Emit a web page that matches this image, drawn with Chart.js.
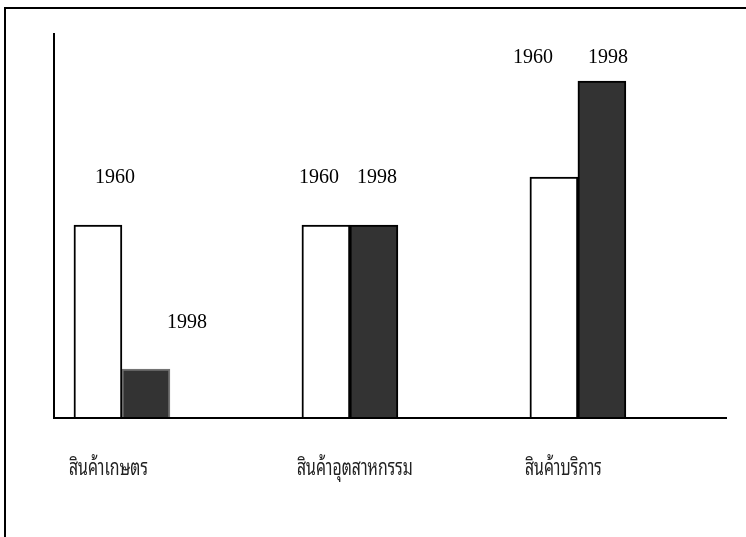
<!DOCTYPE html>
<html>
<head>
<meta charset="utf-8">
<script src="https://cdn.jsdelivr.net/npm/chart.js@4/dist/chart.umd.min.js"></script>
<style>
  html, body { margin: 0; padding: 0; background: #fff; }
  #wrap { width: 746px; height: 537px; }
</style>
</head>
<body>
<div id="wrap"><canvas id="chart" width="746" height="537"></canvas></div>
<script>
const categories = ["สินค้าเกษตร", "สินค้าอุตสาหกรรม", "สินค้าบริการ"];
const seriesNames = ["1960", "1998"];
const values1960 = [4, 4, 5];
const values1998 = [1, 4, 7];
const yMax = 8;

// where each year label sits relative to its bar (centre x, top y)
const labelOffsets = [
  [[17, -42], [-7, -42], [-21, -114]],
  [[41, -41], [3, -42], [6, -18]]
];

const decorations = {
  id: "decorations",
  beforeDraw(chart) {
    const ctx = chart.ctx;
    ctx.save();
    ctx.fillStyle = "#fff";
    ctx.fillRect(0, 0, chart.width, chart.height);
    // frame: only left and top edges are visible
    ctx.strokeStyle = "#000";
    ctx.lineWidth = 2;
    ctx.beginPath();
    ctx.moveTo(5, chart.height);
    ctx.lineTo(5, 8);
    ctx.lineTo(chart.width, 8);
    ctx.stroke();
    ctx.restore();
  },
  afterDatasetsDraw(chart) {
    const { ctx, chartArea: a } = chart;
    ctx.save();
    // axes
    ctx.strokeStyle = "#000";
    ctx.lineWidth = 2;
    ctx.beginPath();
    ctx.moveTo(a.left, a.top);
    ctx.lineTo(a.left, a.bottom + 1);
    ctx.lineTo(a.right, a.bottom + 1);
    ctx.stroke();

    // year labels
    ctx.font = '20px "Liberation Serif", "Times New Roman", serif';
    ctx.fillStyle = "#000";
    ctx.textAlign = "center";
    ctx.textBaseline = "alphabetic";
    chart.data.datasets.forEach((ds, di) => {
      chart.getDatasetMeta(di).data.forEach((bar, i) => {
        const [dx, dy] = labelOffsets[di][i];
        ctx.fillText(ds.label, bar.x + dx, bar.y + dy);
      });
    });

    // category labels, left aligned under each group (narrow, tall Thai face)
    ctx.font = '22px "Noto Sans Thai Looped", "Noto Sans Thai", "Noto Sans", sans-serif';
    ctx.fillStyle = "#222";
    ctx.textAlign = "left";
    const first = chart.getDatasetMeta(0).data;
    categories.forEach((name, i) => {
      const bar = first[i];
      ctx.save();
      ctx.translate(bar.x - bar.width / 2 - 5, a.bottom + 58);
      ctx.scale(0.72, 1);
      ctx.fillText(name, 0, 0);
      ctx.restore();
    });
    ctx.restore();
  }
};

const toPoints = vals => vals.map((v, i) => ({ x: i, y: v }));

new Chart(document.getElementById("chart"), {
  type: "bar",
  data: {
    datasets: [
      {
        label: seriesNames[0],
        data: toPoints(values1960),
        backgroundColor: "#ffffff",
        borderColor: "#000000",
        borderWidth: 2,
        barThickness: 48
      },
      {
        label: seriesNames[1],
        data: toPoints(values1998),
        backgroundColor: "#333333",
        borderColor: ["#737373", "#000000", "#000000"],
        borderWidth: 2,
        barThickness: 48
      }
    ]
  },
  options: {
    responsive: false,
    animation: false,
    layout: { padding: { left: 54, top: 33, right: 19, bottom: 120 } },
    plugins: {
      legend: { display: false },
      tooltip: { enabled: false }
    },
    scales: {
      x: { type: "linear", display: false, offset: false, min: -0.298, max: 2.654 },
      y: { display: false, min: 0, max: yMax }
    }
  },
  plugins: [decorations]
});
</script>
</body>
</html>
